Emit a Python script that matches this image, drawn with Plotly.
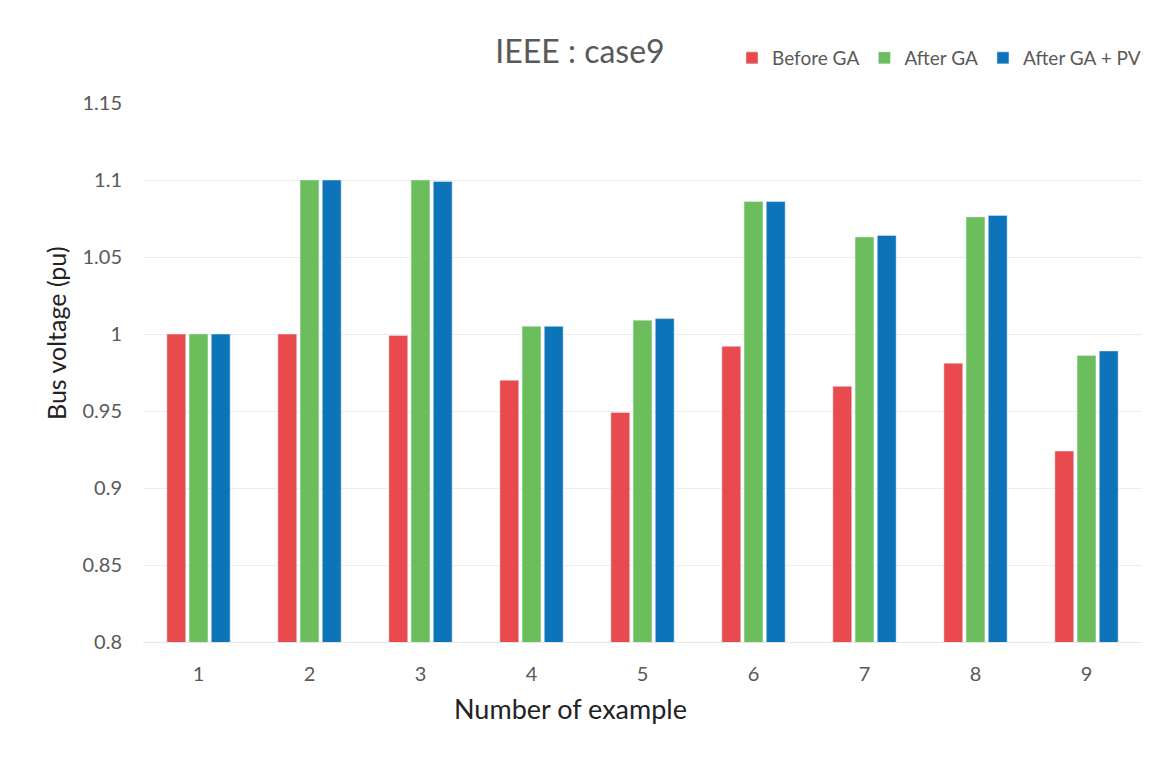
import plotly.graph_objects as go

examples = ["1", "2", "3", "4", "5", "6", "7", "8", "9"]
before_ga = [1.000, 1.000, 0.999, 0.970, 0.949, 0.992, 0.966, 0.981, 0.924]
after_ga = [1.000, 1.100, 1.100, 1.005, 1.009, 1.086, 1.063, 1.076, 0.986]
after_ga_pv = [1.000, 1.100, 1.099, 1.005, 1.010, 1.086, 1.064, 1.077, 0.989]
y_ticks = [0.8, 0.85, 0.9, 0.95, 1.0, 1.05, 1.1, 1.15]
y_tick_text = ["0.8", "0.85", "0.9", "0.95", "1", "1.05", "1.1", "1.15"]

FONT = "Lato, 'Open Sans', sans-serif"
GREY = "#595959"
W, H = 1152, 762
ML, MR, MT, MB = 143, 10, 103, 120
plot_w = W - ML - MR
plot_h = H - MT - MB


def px_to_paper(px, py):
    """Convert page pixel coordinates to paper coordinates."""
    return (px - ML) / plot_w, (H - MB - py) / plot_h


fig = go.Figure()
fig.add_trace(go.Bar(name="Before GA", x=examples, y=before_ga, marker_color="#E84A4D"))
fig.add_trace(go.Bar(name="After GA", x=examples, y=after_ga, marker_color="#6CBD5C"))
fig.add_trace(go.Bar(name="After GA + PV", x=examples, y=after_ga_pv, marker_color="#0E74B9"))

xt_x, xt_y = px_to_paper(570, 708)
yt_x, yt_y = px_to_paper(56, 333)

fig.update_layout(
    width=W, height=H,
    margin=dict(l=ML, r=MR, t=MT, b=MB, autoexpand=False),
    paper_bgcolor="white", plot_bgcolor="white",
    barmode="group", bargap=0.4, bargroupgap=0.15,
    font=dict(family=FONT, color=GREY, size=19),
    title=dict(text="IEEE : case9", x=580 / W, xanchor="center", y=1 - 52 / H, yanchor="middle",
               xref="container", yref="container",
               font=dict(size=32, color=GREY, family=FONT)),
    legend=dict(orientation="h", x=732 / W, xanchor="left", y=1 - 58 / H, yanchor="middle",
                xref="container", yref="container",
                font=dict(size=19, color=GREY, family=FONT),
                itemwidth=30, traceorder="normal", bgcolor="rgba(0,0,0,0)"),
    showlegend=True,
    annotations=[
        dict(text="Number of example", x=xt_x, y=xt_y, xref="paper", yref="paper",
             showarrow=False, xanchor="center", yanchor="middle",
             font=dict(size=27, color="#222222", family=FONT)),
        dict(text="Bus voltage (pu)", x=yt_x, y=yt_y, xref="paper", yref="paper",
             showarrow=False, textangle=-90, xanchor="center", yanchor="middle",
             font=dict(size=25, color="#222222", family=FONT)),
    ],
)

fig.update_xaxes(
    showgrid=False, showline=True, linecolor="#E6E6E6", linewidth=1,
    ticks="", ticklabelstandoff=14, tickfont=dict(size=20, color=GREY),
)
fig.update_yaxes(
    range=[0.8, 1.15], tickvals=y_ticks, ticktext=y_tick_text,
    showgrid=True, gridcolor="#EDEDED", gridwidth=1, zeroline=False,
    showline=False, ticks="", ticklabelstandoff=20,
    tickfont=dict(size=20, color=GREY),
)

fig.write_html("out.html")
